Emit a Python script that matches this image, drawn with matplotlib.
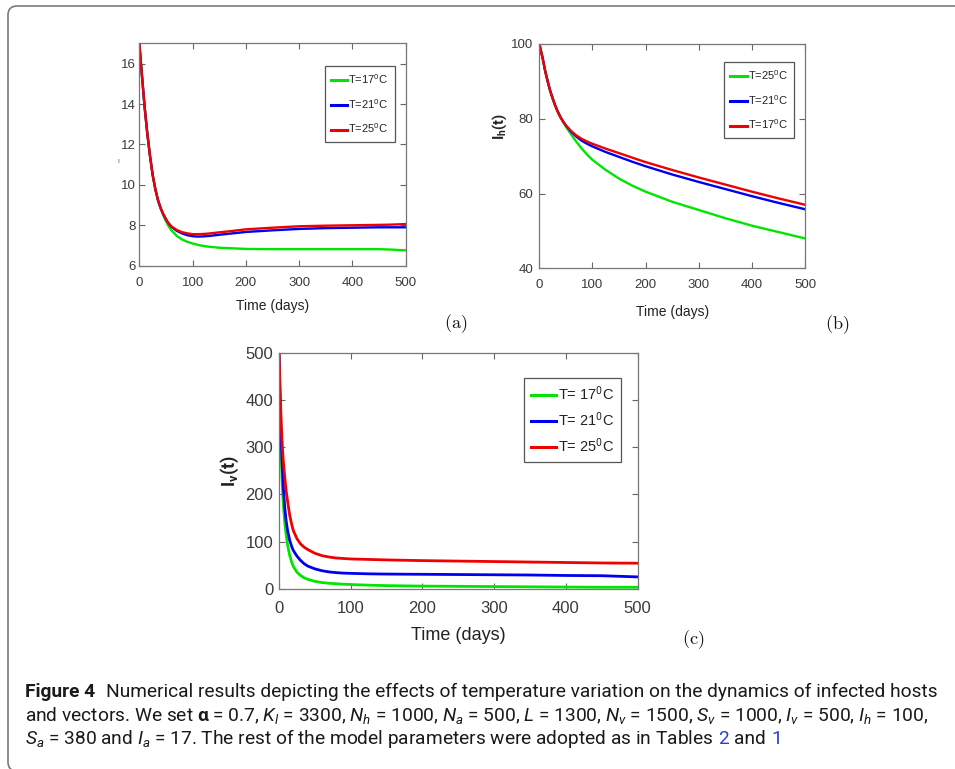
import numpy as np
import matplotlib.pyplot as plt
from matplotlib.patches import FancyBboxPatch
from matplotlib.transforms import IdentityTransform

plt.rcParams['font.family'] = ['Liberation Sans', 'DejaVu Sans']
plt.rcParams['mathtext.fontset'] = 'custom'
plt.rcParams['mathtext.rm'] = 'Roboto'
plt.rcParams['mathtext.it'] = 'Roboto:italic'
plt.rcParams['mathtext.bf'] = 'Roboto:bold'

# ---- data ----
# (a)
t_a = [0, 5, 10, 15, 20, 25, 30, 35, 40, 45, 50, 55, 60, 70, 80, 90, 100, 110, 120, 130,
       150, 175, 200, 250, 300, 350, 400, 450, 470, 500]
a_head = [17.0, 15.4, 13.85, 12.55, 11.45, 10.5, 9.8, 9.25, 8.85]
a_17 = a_head + [8.5, 8.2, 7.95, 7.76, 7.48, 7.3, 7.18, 7.1, 7.03, 6.98, 6.94, 6.89, 6.86,
                 6.83, 6.82, 6.82, 6.82, 6.82, 6.82, 6.8, 6.76]
a_21 = a_head + [8.55, 8.3, 8.09, 7.93, 7.73, 7.6, 7.51, 7.46, 7.44, 7.45, 7.47, 7.53, 7.6,
                 7.67, 7.75, 7.82, 7.86, 7.88, 7.9, 7.9, 7.9]
a_25 = a_head + [8.55, 8.3, 8.1, 7.95, 7.77, 7.66, 7.6, 7.56, 7.56, 7.57, 7.59, 7.65, 7.72,
                 7.8, 7.88, 7.95, 7.98, 8.0, 8.02, 8.03, 8.06]
labels_a = ['T=17$^0$C', 'T=21$^0$C', 'T=25$^0$C']

# (b) I_h(t)
t_b = [0, 2, 4, 6, 8, 10, 13, 16, 20, 25, 30, 35, 40, 45, 50, 60, 70, 80, 90, 100,
       125, 150, 175, 200, 250, 300, 350, 400, 450, 500]
b_head = [100, 98.8, 97.6, 96.4, 95.0, 93.5, 91.6, 89.9, 87.7, 85.5, 83.5, 81.8, 80.4, 79.2]
b_green = b_head + [77.9, 75.8, 73.8, 72.0, 70.4, 69.0, 66.3, 64.0, 62.1, 60.5, 57.8, 55.6,
                    53.4, 51.4, 49.7, 48.0]
b_blue = b_head + [78.2, 76.5, 75.2, 74.1, 73.3, 72.6, 71.1, 69.8, 68.5, 67.3, 65.1, 63.1,
                   61.2, 59.3, 57.5, 55.8]
b_red = b_head + [78.2, 76.7, 75.5, 74.6, 73.9, 73.3, 72.0, 70.8, 69.6, 68.4, 66.3, 64.3,
                  62.4, 60.5, 58.7, 57.0]
labels_b = ['T=25$^0$C', 'T=21$^0$C', 'T=17$^0$C']

# (c) I_v(t)
t_c = [0, 1, 2, 3, 4, 5, 6, 8, 10, 12, 15, 18, 20, 25, 30, 35, 40, 50, 60, 70, 80, 90,
       100, 125, 150, 200, 250, 300, 350, 400, 450, 500]
c_17 = [500, 415, 345, 290, 245, 208, 180, 140, 114, 92, 70, 55, 47, 35, 28, 23, 20, 15.5,
        13, 11.5, 10.5, 9.5, 8.8, 7.5, 6.5, 5.5, 5, 4.5, 4, 3.5, 3, 3]
c_21 = [500, 430, 368, 318, 278, 245, 216, 172, 143, 123, 102, 88, 81, 69, 60, 53, 48, 42,
        38, 35.5, 34, 33, 32.5, 31.5, 31, 30.5, 30, 29.5, 29, 28, 27.5, 25]
c_25 = [500, 448, 398, 355, 320, 292, 270, 236, 207, 185, 155, 134, 123, 106, 95, 88, 83, 75,
        70, 67, 65, 64, 63, 62, 61, 59.5, 58.5, 57.5, 56.5, 55.5, 54.5, 54]
labels_c = ['T= 17$^0$C', 'T= 21$^0$C', 'T= 25$^0$C']

GREEN, BLUE, RED = '#00e600', '#0000f0', '#f00000'

W, H = 955, 769
fig = plt.figure(figsize=(W / 100, H / 100), dpi=100)


def box(l, t, r, b):
    return [l / W, 1 - b / H, (r - l) / W, (b - t) / H]


def style(ax, fs, xpad, ypad):
    ax.set_xlim(0, 500)
    ax.set_xticks(range(0, 501, 100))
    ax.tick_params(direction='in', top=True, right=True, length=4, width=0.8,
                   colors='#666666', labelcolor='#3a3a3a', labelsize=fs)
    ax.tick_params(axis='x', pad=xpad)
    ax.tick_params(axis='y', pad=ypad)
    for s in ax.spines.values():
        s.set_color('#777777')
        s.set_linewidth(0.9)


def legend(ax, labels, x, y, fs, hl, sp, bp):
    leg = ax.legend(labels, loc='upper right', bbox_to_anchor=(x, y), borderaxespad=0,
                    fancybox=False, edgecolor='#555555', framealpha=1, fontsize=fs,
                    handlelength=hl, handletextpad=0.1, labelspacing=sp, borderpad=bp)
    leg.get_frame().set_linewidth(0.9)
    for ln in leg.get_lines():
        ln.set_linewidth(2.2)
    for tx in leg.get_texts():
        tx.set_color('#222222')


# (a)
ax1 = fig.add_axes(box(139.3, 43.4, 405.7, 265.7))
ax1.plot(t_a, a_17, color=GREEN, lw=1.7)
ax1.plot(t_a, a_21, color=BLUE, lw=1.7)
ax1.plot(t_a, a_25, color=RED, lw=1.7)
ax1.set_ylim(6, 17)
ax1.set_yticks(range(6, 17, 2))
style(ax1, 9.5, 8, 2.4)
ax1.set_xlabel('Time (days)', fontsize=10, color='#222222', labelpad=7)
legend(ax1, labels_a, 0.9587, 0.8997, 8, 1.5, 1.0, 0.55)
fig.text(118.3 / W, 1 - 161.7 / H, 'ı', fontsize=5, color='#555555', ha='center', va='center')

# (b)
ax2 = fig.add_axes(box(539.3, 44.0, 805.0, 268.3))
ax2.plot(t_b, b_green, color=GREEN, lw=1.7)
ax2.plot(t_b, b_blue, color=BLUE, lw=1.7)
ax2.plot(t_b, b_red, color=RED, lw=1.7)
ax2.set_ylim(40, 100)
ax2.set_yticks(range(40, 101, 20))
style(ax2, 9.5, 8, 4.5)
ax2.set_xlabel('Time (days)', fontsize=10, color='#222222', labelpad=10)
ax2.set_ylabel(r'$\mathbf{I_h(t)}$', fontsize=10.5, color='#222222')
ax2.yaxis.set_label_coords(-0.115, 0.631)
legend(ax2, labels_b, (794.3 - 539.3) / 265.7, (268.3 - 61.7) / 224.3, 8, 1.5, 1.0, 0.55)

# (c)
ax3 = fig.add_axes(box(279.0, 352.7, 637.7, 588.7))
ax3.plot(t_c, c_17, color=GREEN, lw=2.0)
ax3.plot(t_c, c_21, color=BLUE, lw=2.0)
ax3.plot(t_c, c_25, color=RED, lw=2.0)
ax3.set_ylim(0, 500)
ax3.set_yticks(range(0, 501, 100))
style(ax3, 12, 9, 4)
ax3.set_xlabel('Time (days)', fontsize=13, color='#222222', labelpad=7.5)
ax3.set_ylabel(r'$\mathbf{I_v(t)}$', fontsize=13, color='#222222')
ax3.yaxis.set_label_coords(-0.105, 0.5)
legend(ax3, labels_c, (620.7 - 279.0) / 358.7, (588.7 - 378.3) / 236.0, 10.5, 1.7, 0.55, 0.48)

# panel tags
for s, x, y in [('(a)', 456, 324), ('(b)', 837, 325), ('(c)', 693, 640)]:
    fig.text(x / W, 1 - y / H, r'$\mathrm{%s}$' % s, math_fontfamily='cm', fontsize=13,
             ha='center', va='center', color='#111111')

# outer frame
fig.add_artist(FancyBboxPatch((8, -2), 1000, H - 6 + 2, boxstyle='round,pad=0,rounding_size=9',
                              transform=IdentityTransform(), fill=False, ec='#7a7a7a', lw=1.2))

# caption
rend = fig.canvas.get_renderer()
CAP = dict(family=['Roboto', 'DejaVu Sans'], color='#1a1a1a')


def put_runs(runs, x0, y0, size):
    x = x0
    arts = []
    for s, gap, kw in runs:
        x += gap * size * 100 / 72
        t = fig.text(x / W, 1 - y0 / H, s, fontsize=size, va='baseline', ha='left', **{**CAP, **kw})
        x += t.get_window_extent(rend).width
        arts.append(t)
    return arts, x


line1 = [('Figure 4', 0, dict(fontweight='bold')),
         ('Numerical results depicting the effects of temperature variation on the dynamics '
          'of infected hosts', 0.55, {})]
line2 = [(r'and vectors. We set $\mathbf{\alpha}$ = 0.7, $K_l$ = 3300, $N_h$ = 1000, '
          r'$N_a$ = 500, $L$ = 1300, $N_v$ = 1500, $S_v$ = 1000, $I_v$ = 500, $I_h$ = 100,', 0, {})]
line3 = [(r'$S_a$ = 380 and $I_a$ = 17. The rest of the model parameters were adopted as in Tables',
          0, {}),
         ('2', 0.26, dict(color='#2b3fd6')),
         ('and', 0.26, {}),
         ('1', 0.26, dict(color='#2b3fd6'))]

probe, xend = put_runs(line1, 25, 696.7, 12)
size = 12 * (938 - 25) / (xend - 25)
for p in probe:
    p.remove()

put_runs(line1, 25, 696.7, size)
put_runs(line2, 25, 720.7, size)
put_runs(line3, 25, 744.3, size)

fig.savefig('out.png', dpi=100)
